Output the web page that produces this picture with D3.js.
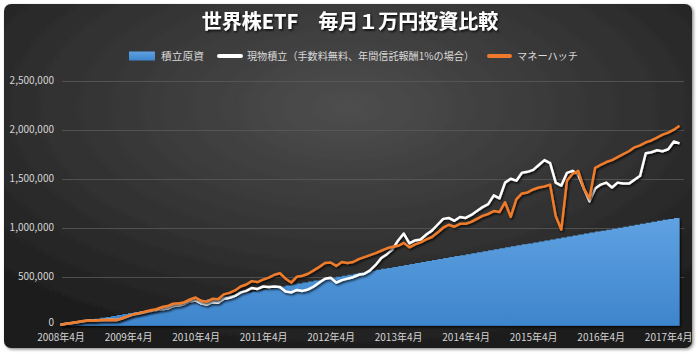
<!DOCTYPE html>
<html><head><meta charset="utf-8">
<script src="https://cdn.jsdelivr.net/npm/d3@7"></script>
<style>
html,body{margin:0;padding:0;background:#fff;}
svg{display:block;}
text{font-family:"Noto Sans CJK JP","Noto Sans",sans-serif;}
</style></head>
<body>
<svg id="chart" width="700" height="354"></svg>
<script>
// ---- data (values in 千円 / thousand yen) ----
const unit = 1000;
const title = "世界株ETF　毎月１万円投資比較";
const seriesNames = ["積立原資", "現物積立（手数料無料、年間信託報酬1%の場合）", "マネーハッチ"];
const xTickIndex = [0, 12, 24, 36, 48, 60, 72, 84, 96, 108];
const xTickLabels = ["2008年4月","2009年4月","2010年4月","2011年4月","2012年4月","2013年4月","2014年4月","2015年4月","2016年4月","2017年4月"];
const yTicks = [0, 500000, 1000000, 1500000, 2000000, 2500000];

const principal = [
 10,20,30,40,50,60,70,80,90,100,
 110,120,130,140,150,160,170,180,190,200,
 210,220,230,240,250,260,270,280,290,300,
 310,320,330,340,350,360,370,380,390,400,
 410,420,430,440,450,460,470,480,490,500,
 510,520,530,540,550,560,570,580,590,600,
 610,620,630,640,650,660,670,680,690,700,
 710,720,730,740,750,760,770,780,790,800,
 810,820,830,840,850,860,870,880,890,900,
 910,920,930,940,950,960,970,980,990,1000,
 1010,1020,1030,1040,1050,1060,1070,1080,1090,1100,1110];
const genbutsu = [
 10,20,28,36,46,52,50,55,58,60,
 58,75,95,115,125,138,150,160,168,175,
 200,205,222,250,258,228,215,240,235,275,
 285,305,340,355,385,375,400,395,400,395,
 350,340,365,355,370,400,440,480,490,440,
 465,480,495,520,530,565,620,690,730,780,
 870,940,840,870,880,930,970,1030,1090,1100,
 1070,1110,1100,1130,1170,1210,1240,1330,1300,1460,
 1500,1480,1560,1570,1590,1640,1690,1660,1460,1430,
 1560,1580,1540,1400,1270,1400,1440,1460,1410,1460,
 1450,1450,1490,1530,1760,1770,1790,1780,1800,1880,1860];
const moneyhatch = [
 10,20,28,37,47,53,50,57,58,60,
 58,76,98,118,128,142,157,168,190,200,
 225,228,240,268,288,255,245,275,270,320,
 335,360,400,420,455,445,470,490,520,535,
 480,440,500,510,530,565,600,640,645,610,
 650,640,650,680,700,720,740,765,790,805,
 815,845,800,830,850,880,905,950,1000,1030,
 1010,1040,1040,1060,1090,1120,1140,1170,1160,1260,
 1110,1290,1350,1360,1390,1410,1420,1440,1120,980,
 1480,1550,1580,1400,1300,1610,1640,1670,1690,1720,
 1750,1780,1820,1840,1870,1890,1920,1950,1970,2000,2040];

// ---- chart ----
const svg = d3.select("#chart");
const defs = svg.append("defs");

const bg = defs.append("radialGradient").attr("id","bg")
  .attr("cx","50%").attr("cy","30%").attr("r","75%");
bg.append("stop").attr("offset","0%").attr("stop-color","#4e4e4e");
bg.append("stop").attr("offset","100%").attr("stop-color","#1b1b1b");

const ag = defs.append("linearGradient").attr("id","areaGrad")
  .attr("x1","0").attr("y1","0").attr("x2","0").attr("y2","1");
ag.append("stop").attr("offset","0%").attr("stop-color","#5fa2e2");
ag.append("stop").attr("offset","100%").attr("stop-color","#3e85cc");

const sh = defs.append("filter").attr("id","shadow")
  .attr("x","-5%").attr("y","-5%").attr("width","110%").attr("height","120%");
sh.append("feDropShadow").attr("dx",1.2).attr("dy",1.5).attr("stdDeviation",0.9)
  .attr("flood-color","#000").attr("flood-opacity",0.85);

const fr = defs.append("filter").attr("id","frameShadow")
  .attr("x","-2%").attr("y","-2%").attr("width","104%").attr("height","106%");
fr.append("feDropShadow").attr("dx",1.5).attr("dy",1.5).attr("stdDeviation",1.5)
  .attr("flood-color","#000").attr("flood-opacity",0.45);

svg.append("rect").attr("x",4).attr("y",4).attr("width",688).attr("height",344)
  .attr("rx",7).attr("fill","url(#bg)").attr("filter","url(#frameShadow)");

const x = d3.scaleLinear().domain([0, principal.length - 1]).range([60.5, 679.5]);
const y = d3.scaleLinear().domain([0, 2500000]).range([325.7, 80.7]);

// gridlines
svg.append("g").selectAll("line").data(yTicks.slice(1)).join("line")
  .attr("x1",62).attr("x2",684)
  .attr("y1",d=>Math.round(y(d))+0.5).attr("y2",d=>Math.round(y(d))+0.5)
  .attr("stroke","#5a5a5a").attr("stroke-width",0.8);

// y axis
const yAxis = svg.append("g").attr("transform","translate(62,0)")
  .call(d3.axisLeft(y).tickValues(yTicks).tickFormat(d3.format(",")).tickSize(0).tickPadding(8));
yAxis.select(".domain").remove();
yAxis.selectAll("text").attr("fill","#d4d4d4").attr("font-size",10)
  .attr("font-family","\"Noto Sans\",sans-serif");
yAxis.selectAll(".tick").filter(d=>d===0).select("text").attr("dy","0em");

// area (principal)
const area = d3.area().curve(d3.curveStepAfter)
  .x((d,i)=>x(i)).y0(y(0)).y1(d=>y(d*unit));
svg.append("path").datum(principal).attr("d",area)
  .attr("fill","url(#areaGrad)").attr("filter","url(#shadow)");

// lines
const line = d3.line().x((d,i)=>x(i)).y(d=>y(d*unit));
svg.append("path").datum(genbutsu).attr("d",line)
  .attr("fill","none").attr("stroke","#ffffff").attr("stroke-width",2.5)
  .attr("stroke-linejoin","round").attr("filter","url(#shadow)");
svg.append("path").datum(moneyhatch).attr("d",line)
  .attr("fill","none").attr("stroke","#ee7b2c").attr("stroke-width",2.5)
  .attr("stroke-linejoin","round").attr("filter","url(#shadow)");

// x axis
const xAxis = svg.append("g").attr("transform","translate(0,326)")
  .call(d3.axisBottom(x).tickValues(xTickIndex).tickFormat((d,i)=>xTickLabels[i]).tickSize(0).tickPadding(8));
xAxis.select(".domain").remove();
xAxis.selectAll("text").attr("fill","#d4d4d4").attr("font-size",10)
  .attr("font-family","\"Noto Sans CJK JP\",sans-serif");

// title
svg.append("text").attr("x",350).attr("y",29).attr("text-anchor","middle")
  .attr("font-size",20).attr("font-weight","bold").attr("fill","#ffffff")
  .attr("filter","url(#shadow)").text(title);

// legend
const lg = svg.append("g").attr("font-size",10.5).attr("fill","#d9d9d9");
const ly = 56;
lg.append("rect").attr("x",129).attr("y",ly-4.5).attr("width",26).attr("height",9)
  .attr("fill","url(#areaGrad)");
lg.append("text").attr("x",161).attr("y",ly).attr("dy","0.35em")
  .attr("textLength",43).attr("lengthAdjust","spacingAndGlyphs").text(seriesNames[0]);
lg.append("line").attr("x1",219).attr("x2",241).attr("y1",ly).attr("y2",ly)
  .attr("stroke","#ffffff").attr("stroke-width",4).attr("stroke-linecap","round");
lg.append("text").attr("x",247).attr("y",ly).attr("dy","0.35em")
  .attr("textLength",227).attr("lengthAdjust","spacingAndGlyphs").text(seriesNames[1]);
lg.append("line").attr("x1",489).attr("x2",510).attr("y1",ly).attr("y2",ly)
  .attr("stroke","#ee7b2c").attr("stroke-width",4).attr("stroke-linecap","round");
lg.append("text").attr("x",517).attr("y",ly).attr("dy","0.35em")
  .attr("textLength",61).attr("lengthAdjust","spacingAndGlyphs").text(seriesNames[2]);
</script>
</body></html>
